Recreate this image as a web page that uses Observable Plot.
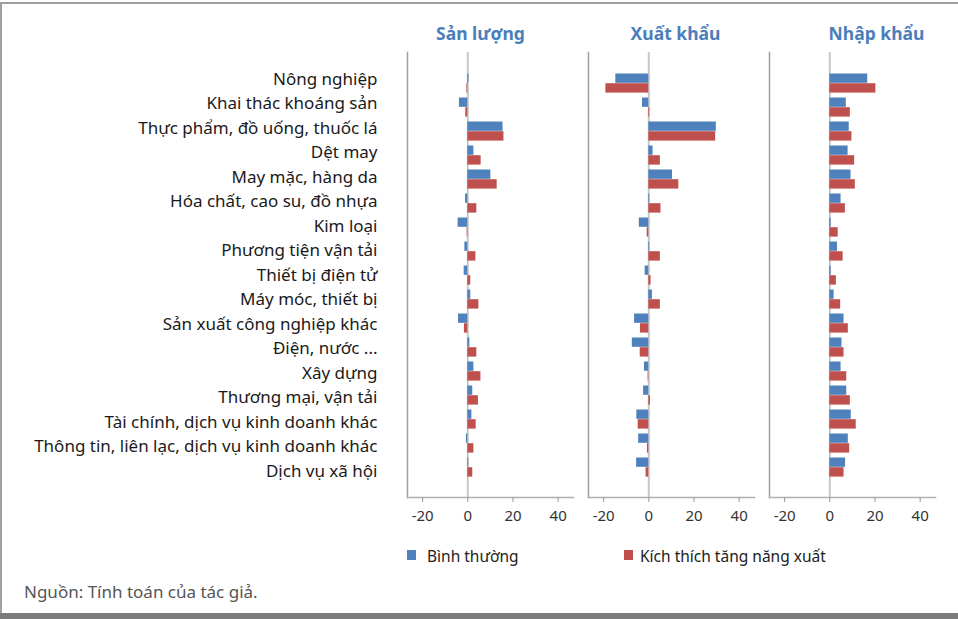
<!DOCTYPE html>
<html>
<head>
<meta charset="utf-8">
<script src="https://cdn.jsdelivr.net/npm/d3@7"></script>
<script src="https://cdn.jsdelivr.net/npm/@observablehq/plot@0.6"></script>
<style>
  html, body { margin: 0; padding: 0; background: #fff; }
  #wrap { position: relative; width: 958px; height: 619px; overflow: hidden; font-family: "Noto Sans", sans-serif; }
  #chart { position: absolute; left: 0; top: 0; }
  .line { position: absolute; background: #a0a0a0; }
  .legend-item { position: absolute; top: 546px; height: 20px; line-height: 20px; font-size: 15.5px; color: #222; white-space: nowrap; }
  .swatch { position: absolute; width: 9px; height: 10px; top: 550px; }
  #source { position: absolute; left: 24px; top: 581px; line-height: 22px; font-size: 17px; color: #555; white-space: nowrap; }
</style>
</head>
<body>
<div id="wrap">
  <div class="line" style="left:0;top:2px;width:958px;height:2px;"></div>
  <div class="line" style="left:0;top:2px;width:2px;height:612px;"></div>
  <div class="line" style="left:0;top:613px;width:958px;height:6px;background:#7a7a7a;"></div>
  <div id="chart"></div>
  <div id="legend"></div>
  <div id="source">Nguồn: Tính toán của tác giả.</div>
</div>
<script>
const categories = [
  "Nông nghiệp",
  "Khai thác khoáng sản",
  "Thực phẩm, đồ uống, thuốc lá",
  "Dệt may",
  "May mặc, hàng da",
  "Hóa chất, cao su, đồ nhựa",
  "Kim loại",
  "Phương tiện vận tải",
  "Thiết bị điện tử",
  "Máy móc, thiết bị",
  "Sản xuất công nghiệp khác",
  "Điện, nước ...",
  "Xây dựng",
  "Thương mại, vận tải",
  "Tài chính, dịch vụ kinh doanh khác",
  "Thông tin, liên lạc, dịch vụ kinh doanh khác",
  "Dịch vụ xã hội"
];
const panels = ["Sản lượng", "Xuất khẩu", "Nhập khẩu"];
const seriesNames = ["Bình thường", "Kích thích tăng năng xuất"];
const seriesColors = ["#4F81BD", "#C0504D"];
const xTicks = [-20, 0, 20, 40];

const sanLuongBinhThuong = [0.5, -3.7, 15.6, 2.7, 10.2, -1.0, -4.3, -1.3, -1.6, 1.3, -4.1, 0.9, 2.7, 2.2, 1.8, -0.6, 0.4];
const sanLuongKichThich  = [-0.4, -0.9, 16.0, 5.9, 13.0, 4.0, -0.3, 3.6, 1.3, 4.9, -1.5, 4.0, 5.8, 4.7, 3.7, 2.7, 2.2];
const xuatKhauBinhThuong = [-14.6, -2.8, 29.9, 1.9, 10.5, 0.4, -4.2, 0.4, -1.6, 1.6, -6.3, -7.3, -1.9, -2.3, -5.3, -4.5, -5.4];
const xuatKhauKichThich  = [-19.0, 0.4, 29.6, 5.1, 13.3, 5.4, -0.7, 5.1, 1.0, 5.1, -3.7, -3.8, -0.3, 0.7, -4.7, -0.6, -1.2];
const nhapKhauBinhThuong = [16.8, 7.3, 8.6, 8.1, 9.4, 5.0, 0.6, 3.4, 0.6, 1.9, 6.3, 5.4, 5.0, 7.5, 9.5, 8.2, 7.0];
const nhapKhauKichThich  = [20.4, 9.1, 9.8, 11.0, 11.3, 6.9, 3.7, 5.9, 2.9, 4.8, 8.2, 6.3, 7.5, 9.1, 11.7, 8.8, 6.3];

const seriesByPanel = [
  [sanLuongBinhThuong, sanLuongKichThich],
  [xuatKhauBinhThuong, xuatKhauKichThich],
  [nhapKhauBinhThuong, nhapKhauKichThich]
];

const rows = [];
panels.forEach((p, pi) => {
  seriesNames.forEach((s, si) => {
    seriesByPanel[pi][si].forEach((v, ci) => {
      rows.push({panel: p, series: s, category: categories[ci], value: v});
    });
  });
});

// layout constants (pixels)
const titleOffsets = [-10, 4, 24];
const labelShiftFirst = -4, labelShiftLast = 4;

const chart = Plot.plot({
  width: 958,
  height: 535,
  marginLeft: 407,
  marginRight: 23,
  marginTop: 52,
  marginBottom: 38,
  style: {fontFamily: "'Noto Sans', sans-serif", fontSize: "15px", background: "transparent", overflow: "visible"},
  fx: {domain: panels, paddingInner: 0.083, paddingOuter: 0, label: null},
  x: {domain: [-26.7, 46.8], label: null},
  y: {domain: categories, paddingInner: 0, paddingOuter: 0.643, label: null},
  marks: [
    Plot.ruleX([0], {stroke: "#c8c8c8", strokeWidth: 2}),
    Plot.barX(rows.filter(d => d.series === seriesNames[0]), {
      fx: "panel", y: "category", x1: 0, x2: "value",
      fill: seriesColors[0], insetTop: 2.5, insetBottom: 12.2
    }),
    Plot.barX(rows.filter(d => d.series === seriesNames[1]), {
      fx: "panel", y: "category", x1: 0, x2: "value",
      fill: seriesColors[1], insetTop: 12.2, insetBottom: 2.4
    }),
    Plot.frame({anchor: "left", stroke: "#a0a0a0", strokeWidth: 1.5}),
    Plot.frame({anchor: "bottom", stroke: "#b0b0b0", strokeWidth: 1.5}),
    Plot.axisY({tickSize: 0, tickPadding: 30, fontSize: 17, fill: "#1a1a1a", label: null}),
    Plot.axisX({ticks: xTicks, tickFormat: d => String(d), tickSize: 5, tickPadding: 8, fontSize: 15, fill: "#333", stroke: "#999", label: null}),
    Plot.axisFx({anchor: "top", tickSize: 0, tickPadding: 13, fontSize: 17.5, fontWeight: "bold", fill: "#4a7ebb", label: null})
  ]
});

document.getElementById("chart").appendChild(chart);

// nudge panel titles to match the reference placement
d3.select(chart).selectAll('g[aria-label="fx-axis tick label"] text')
  .attr("dx", (d, i) => titleOffsets[i] || 0);

// category labels in the reference are spaced slightly wider than the bars
const nLab = categories.length;
d3.select(chart).selectAll('g[aria-label="y-axis tick label"] text')
  .attr("dy", (d, i) => labelShiftFirst + (labelShiftLast - labelShiftFirst) * i / (nLab - 1));

// legend
const legend = document.getElementById("legend");
const legendPos = [[407, 427], [624, 640]];
seriesNames.forEach((s, i) => {
  const sw = document.createElement("div");
  sw.className = "swatch";
  sw.style.left = legendPos[i][0] + "px";
  sw.style.background = seriesColors[i];
  legend.appendChild(sw);
  const t = document.createElement("div");
  t.className = "legend-item";
  t.style.left = legendPos[i][1] + "px";
  t.textContent = s;
  legend.appendChild(t);
});
</script>
</body>
</html>
